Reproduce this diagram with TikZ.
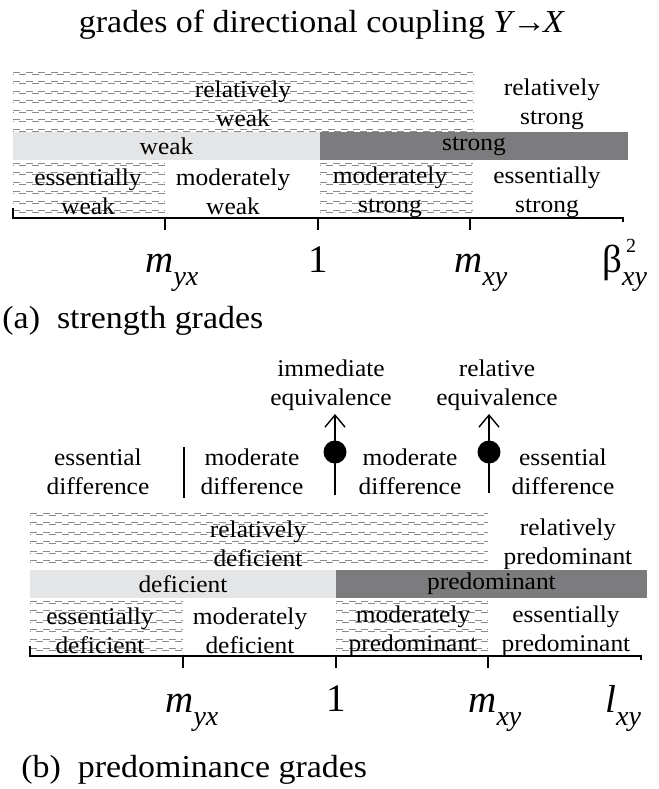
\documentclass[tikz,border=0pt]{standalone}
\usepackage{fontspec}
\setmainfont{Liberation Serif}[FakeStretch=1.06]
\newfontfamily\tickfont{Liberation Serif}
\usetikzlibrary{arrows.meta}
\definecolor{barlight}{RGB}{228,229,231}
\definecolor{bardark}{RGB}{124,124,127}
\definecolor{hatchgray}{RGB}{140,140,140}

% rows of staggered dashes: left, right, first row, number of rows
\newcommand{\hatchband}[4]{%
  \foreach \k in {1,...,#4}{%
    \pgfmathsetmacro{\hy}{#3+9.5*(\k-1)}%
    \draw[hatch] (#1,\hy) -- (#2,\hy);
    \draw[hatch, dash phase=3.15pt] (#1,\hy+2) -- (#2,\hy+2);}}
\newcommand{\lowsub}[1]{\raisebox{-6.5pt}{\fontsize{14}{14}\selectfont\itshape #1}}

\begin{document}
\begin{tikzpicture}[
    x=0.5pt, y=-0.5pt,
    every node/.style={inner sep=0pt, align=center, font={\fontsize{12}{14.5}\selectfont}},
    big/.style={font={\fontsize{16}{18}\selectfont}},
    tick/.style={font={\tickfont\fontsize{19.5}{20}\selectfont\itshape}},
    lightbar/.style={fill=barlight, minimum height=14pt},
    darkbar/.style={fill=bardark, minimum height=14pt},
    hatch/.style={draw=hatchgray, line width=0.4pt, dash pattern=on 3.5pt off 2.8pt},
    axis/.style={line width=0.6pt},
    eqdot/.style={circle, fill=black, minimum size=11.5pt},
    equiv/.style={-{Straight Barb[length=6pt,width=10pt]}, line width=0.7pt}
]
\useasboundingbox (0,0) rectangle (659,789);
\node[big, anchor=base] (title) at (322,32) {grades of directional coupling \textit{Y}\kern-1.5pt→\kern-1.5pt\textit{X}};

% (a) strength grades
\hatchband{13}{473}{72}{7}
\hatchband{13}{165}{163}{6}
\hatchband{320}{473}{163}{6}
\node (relweak) at (243,104) {relatively\\weak};
\node (relstrong) at (552,104) {relatively\\strong};
\node[lightbar, minimum width=153.5pt] (weak) at (166.5,146) {weak};
\node[darkbar, minimum width=154pt] (strong) at (474,146) {strong};
\node (esweak) at (88,192) {essentially\\weak};
\node (modweak) at (233,192) {moderately\\weak};
\node (modstrong) at (390,192) {moderately\\strong};
\node (esstrong) at (547,192) {essentially\\strong};
\draw[axis] (13,208) -- (13,218) -- (623,218) -- (623,222);
\foreach \x in {165,318,470} \draw[axis] (\x,218) -- (\x,230);
\node[tick, anchor=base west] (myxa) at (145,272) {m\lowsub{yx}};
\node[tick, anchor=base] (onea) at (318,272) {\upshape 1};
\node[tick, anchor=base west] (mxya) at (454,272) {m\lowsub{xy}};
\node[tick, anchor=base west] (betaa) at (602,272) {\upshape β\rlap{\hspace{2pt}\raisebox{10pt}{\fontsize{10}{10}\selectfont 2}}\lowsub{xy}};
\node[big, anchor=base west] (capa) at (2,328) {(a)\ \ strength grades};

% (b) predominance grades
\node (immeq) at (331,385) {immediate\\equivalence};
\node (releq) at (497,385) {relative\\equivalence};
\node (esdiffl) at (98,472) {essential\\difference};
\node (moddiffl) at (252,472) {moderate\\difference};
\node (moddiffr) at (410,472) {moderate\\difference};
\node (esdiffr) at (563,472) {essential\\difference};
\draw[axis] (184,447) -- (184,498);
\coordinate (footi) at (335,495);
\coordinate (tipi) at (335,414);
\coordinate (footr) at (489,493);
\coordinate (tipr) at (489,414);
\draw[equiv] (footi) -- (tipi);
\draw[equiv] (footr) -- (tipr);
\node[eqdot] (doti) at (335,452) {};
\node[eqdot] (dotr) at (489,452) {};
\hatchband{30}{488}{513}{6}
\hatchband{30}{183}{601}{6}
\hatchband{336}{488}{601}{6}
\node (reldef) at (258,544) {relatively\\deficient};
\node (relpre) at (568,544) {relatively\\predominant};
\node[lightbar, minimum width=153pt] (def) at (183,584) {deficient};
\node[darkbar, minimum width=155.5pt] (pre) at (491.5,584) {predominant};
\node (esdef) at (100,631) {essentially\\deficient};
\node (moddef) at (250,631) {moderately\\deficient};
\node (modpre) at (413,631) {moderately\\predominant};
\node (espre) at (566,631) {essentially\\predominant};
\draw[axis] (30,646) -- (30,656) -- (641,656) -- (641,660);
\foreach \x in {183,336,488} \draw[axis] (\x,656) -- (\x,668);
\node[tick, anchor=base west] (myxb) at (165,712) {m\lowsub{yx}};
\node[tick, anchor=base] (oneb) at (336,711) {\upshape 1};
\node[tick, anchor=base west] (mxyb) at (468,712) {m\lowsub{xy}};
\node[tick, anchor=base west] (lxyb) at (605,712) {l\lowsub{xy}};
\node[big, anchor=base west] (capb) at (21,777) {(b)\ \ predominance grades};
\end{tikzpicture}
\end{document}
